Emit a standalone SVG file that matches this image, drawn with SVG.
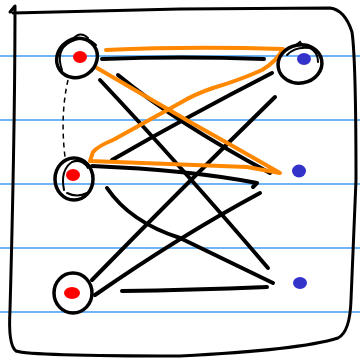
<svg xmlns="http://www.w3.org/2000/svg" width="360" height="360" viewBox="0 0 360 360">
<style>
.rule{stroke:#3d9cf5;stroke-width:1.5;fill:none}
.frame{stroke:#000;stroke-width:3;fill:none;stroke-linecap:round;stroke-linejoin:round}
.edge{stroke:#000;stroke-width:4;fill:none;stroke-linecap:round;stroke-linejoin:round}
.hl{stroke:#ff8800;stroke-width:4;fill:none;stroke-linecap:round;stroke-linejoin:round}
.dash{stroke:#000;stroke-width:1.5;fill:none;stroke-dasharray:5 4}
.ring{stroke:#000;stroke-width:3.5;fill:none;stroke-linecap:round}
.thin{stroke:#000;stroke-width:2;fill:none;stroke-linecap:round}
.red{fill:#ff0000}
.blue{fill:#3333cc}
</style>
<rect width="360" height="360" fill="#fff"/>
<g id="rules">
<line class="rule" x1="0" y1="56" x2="360" y2="56"/>
<line class="rule" x1="0" y1="120" x2="360" y2="120"/>
<line class="rule" x1="0" y1="184" x2="360" y2="184"/>
<line class="rule" x1="0" y1="248" x2="360" y2="248"/>
<line class="rule" x1="0" y1="312" x2="360" y2="312"/>
</g>
<g id="frame">
<path class="frame" d="M10,12 L15,6 C15,100 13,200 10,310 Q8,345 16,351 Q30,356 180,356 Q300,350 338,338 Q350,332 351,300 L356,180 Q356,60 352,32 Q345,10 330,8 L180,9 L13,13"/>
</g>
<g id="connectors">
<path class="dash" d="M68,80 Q60,115 65,157"/>
<path class="edge" d="M102,59 Q180,56 264,59"/>
<path class="edge" d="M118,75 Q175,122 270,173"/>
<path class="edge" d="M100,80 Q180,165 268,268"/>
<path class="edge" d="M112,160 Q190,115 272,73"/>
<path class="edge" d="M92,166 Q190,170 257,183 L253,187"/>
<path class="edge" d="M107,188 Q130,222 180,238 L273,283"/>
<path class="edge" d="M92,280 Q180,190 275,97"/>
<path class="edge" d="M95,295 Q180,236 260,193"/>
<path class="edge" d="M122,291 Q190,290 267,287"/>
<path class="hl" d="M106,50 Q190,46 283,49 Q276,62 262,70 Q240,80 213,88 Q195,94 180,103 L113,140 Q98,146 93,152 L90,161 Q170,164 247,167 L280,173 Q240,150 190,122 L97,68"/>
</g>
<g id="L1">
<ellipse class="ring" cx="77" cy="58" rx="21" ry="19" transform="rotate(-35 77 58)"/>
<path class="thin" d="M62,70 Q55,50 70,42 Q85,34 96,45"/>
<path class="thin" d="M72,40 Q80,30 88,38"/>
<ellipse class="red" cx="80" cy="57" rx="7" ry="6"/>
</g>
<g id="L2">
<ellipse class="ring" cx="74" cy="179" rx="19" ry="21"/>
<path class="thin" d="M64,190 Q60,170 72,162 Q82,158 88,168"/>
<path class="thin" d="M67,193 Q77,198 87,193"/>
<ellipse class="red" cx="73" cy="175" rx="7" ry="6"/>
</g>
<g id="L3">
<ellipse class="ring" cx="73" cy="293" rx="19" ry="20"/>
<ellipse class="red" cx="72" cy="293" rx="8" ry="6"/>
</g>
<g id="R1">
<ellipse class="ring" cx="300" cy="64" rx="22" ry="19" transform="rotate(-10 300 64)"/>
<path class="thin" d="M287,55 Q295,46 310,48 Q318,52 318,62"/>
<path class="thin" d="M296,45 L300,42 L303,46"/>
<ellipse class="blue" cx="304" cy="59" rx="7" ry="6"/>
</g>
<g id="R2">
<ellipse class="blue" cx="299" cy="171" rx="7" ry="6.5"/>
</g>
<g id="R3">
<ellipse class="blue" cx="300" cy="283" rx="7" ry="6"/>
</g>
</svg>
